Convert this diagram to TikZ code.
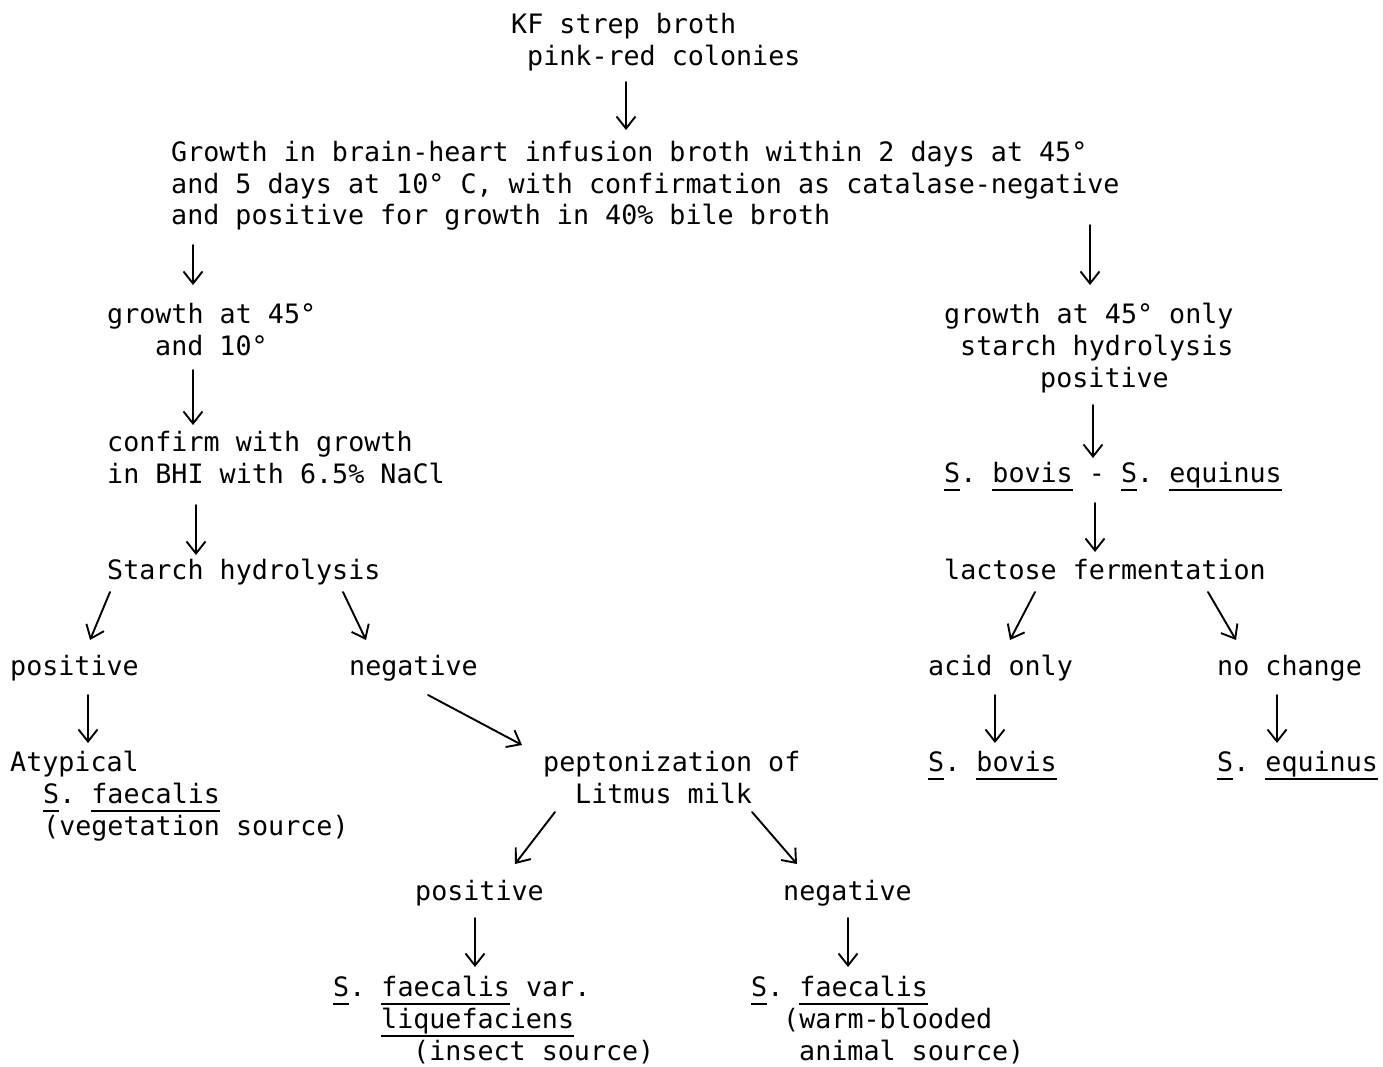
\documentclass[tikz,border=0pt]{standalone}
\usepackage{fontspec}
\setmainfont{DejaVu Sans Mono}
\usetikzlibrary{arrows.meta}
\frenchspacing
\newcommand\myul[1]{\setbox0=\hbox{#1}\rlap{\rule[-9pt]{\wd0}{1.8pt}}\box0\relax}
\begin{document}
\begin{tikzpicture}[x=1pt,y=-1pt,
  txt/.style={anchor=base west,inner sep=0pt,font=\fontsize{26.7}{31.5}\selectfont\frenchspacing},
  arr/.style={line width=1.9pt,line cap=round,line join=round,
    -{Straight Barb[length=12pt,width=19pt,line width=1.9pt]}}]
\useasboundingbox[fill=white] (0,0) rectangle (1383,1067);
% texts
\node[txt] (kf1) at (511,34) {KF strep broth};
\node[txt] (kf2) at (527,66) {pink-red colonies};
\node[txt] (g1) at (171,162) {Growth in brain-heart infusion broth within 2 days at 45°};
\node[txt] (g2) at (171,194) {and 5 days at 10° C, with confirmation as catalase-negative};
\node[txt] (g3) at (171,225) {and positive for growth in 40\% bile broth};
\node[txt] (l1a) at (107,323) {growth at 45°};
\node[txt] (l1b) at (155,355) {and 10°};
\node[txt] (r1a) at (944,323) {growth at 45° only};
\node[txt] (r1b) at (960,355) {starch hydrolysis};
\node[txt] (r1c) at (1040,387) {positive};
\node[txt] (l2a) at (107,451) {confirm with growth};
\node[txt] (l2b) at (107,483) {in BHI with 6.5\% NaCl};
\node[txt] (l3) at (107,579) {Starch hydrolysis};
\node[txt] (r2) at (944,482) {\myul{S}. \myul{bovis} - \myul{S}. \myul{equinus}};
\node[txt] (r3) at (944,579) {lactose fermentation};
\node[txt] (pos) at (10,675) {positive};
\node[txt] (neg) at (349,675) {negative};
\node[txt] (acid) at (928,675) {acid only};
\node[txt] (noch) at (1217,675) {no change};
\node[txt] (aty1) at (10,771) {Atypical};
\node[txt] (aty2) at (43,803) {\myul{S}. \myul{faecalis}};
\node[txt] (aty3) at (43,835) {(vegetation source)};
\node[txt] (pep1) at (543,771) {peptonization of};
\node[txt] (pep2) at (575,803) {Litmus milk};
\node[txt] (bov) at (928,771) {\myul{S}. \myul{bovis}};
\node[txt] (equ) at (1217,771) {\myul{S}. \myul{equinus}};
\node[txt] (pos2) at (415,900) {positive};
\node[txt] (neg2) at (783,900) {negative};
\node[txt] (lq1) at (333,996) {\myul{S}. \myul{faecalis} var.};
\node[txt] (lq2) at (381,1028) {\myul{liquefaciens}};
\node[txt] (lq3) at (413,1060) {(insect source)};
\node[txt] (fa1) at (751,996) {\myul{S}. \myul{faecalis}};
\node[txt] (fa2) at (783,1028) {(warm-blooded};
\node[txt] (fa3) at (799,1060) {animal source)};
% arrows
\draw[arr] ([shift={(99,16)}]kf2.base west) -- ([shift={(455,-32)}]g1.base west);
\draw[arr] ([shift={(22,20)}]g3.base west) -- ([shift={(86,-38)}]l1a.base west);
\draw[arr] ([shift={(919,0)}]g3.base west) -- ([shift={(146,-38)}]r1a.base west);
\draw[arr] ([shift={(38,15)}]l1b.base west) -- ([shift={(86,-26)}]l2a.base west);
\draw[arr] ([shift={(89,22)}]l2b.base west) -- ([shift={(89,-24)}]l3.base west);
\draw[arr] ([shift={(53,18)}]r1c.base west) -- ([shift={(149,-24)}]r2.base west);
\draw[arr] ([shift={(151,21)}]r2.base west) -- ([shift={(151,-27)}]r3.base west);
\draw[arr] ([shift={(3,13)}]l3.base west) -- ([shift={(80,-35)}]pos.base west);
\draw[arr] ([shift={(236,13)}]l3.base west) -- ([shift={(17,-35)}]neg.base west);
\draw[arr] ([shift={(91,13)}]r3.base west) -- ([shift={(82,-35)}]acid.base west);
\draw[arr] ([shift={(264,13)}]r3.base west) -- ([shift={(19,-35)}]noch.base west);
\draw[arr] ([shift={(78,20)}]pos.base west) -- ([shift={(78,-28)}]aty1.base west);
\draw[arr] ([shift={(79,20)}]neg.base west) -- ([shift={(-21,-26)}]pep1.base west);
\draw[arr] ([shift={(67,20)}]acid.base west) -- ([shift={(67,-28)}]bov.base west);
\draw[arr] ([shift={(60,20)}]noch.base west) -- ([shift={(60,-28)}]equ.base west);
\draw[arr] ([shift={(-20,9)}]pep2.base west) -- ([shift={(100,-36)}]pos2.base west);
\draw[arr] ([shift={(177,9)}]pep2.base west) -- ([shift={(14,-36)}]neg2.base west);
\draw[arr] ([shift={(60,18)}]pos2.base west) -- ([shift={(142,-29)}]lq1.base west);
\draw[arr] ([shift={(65,18)}]neg2.base west) -- ([shift={(97,-29)}]fa1.base west);
\end{tikzpicture}
\end{document}
